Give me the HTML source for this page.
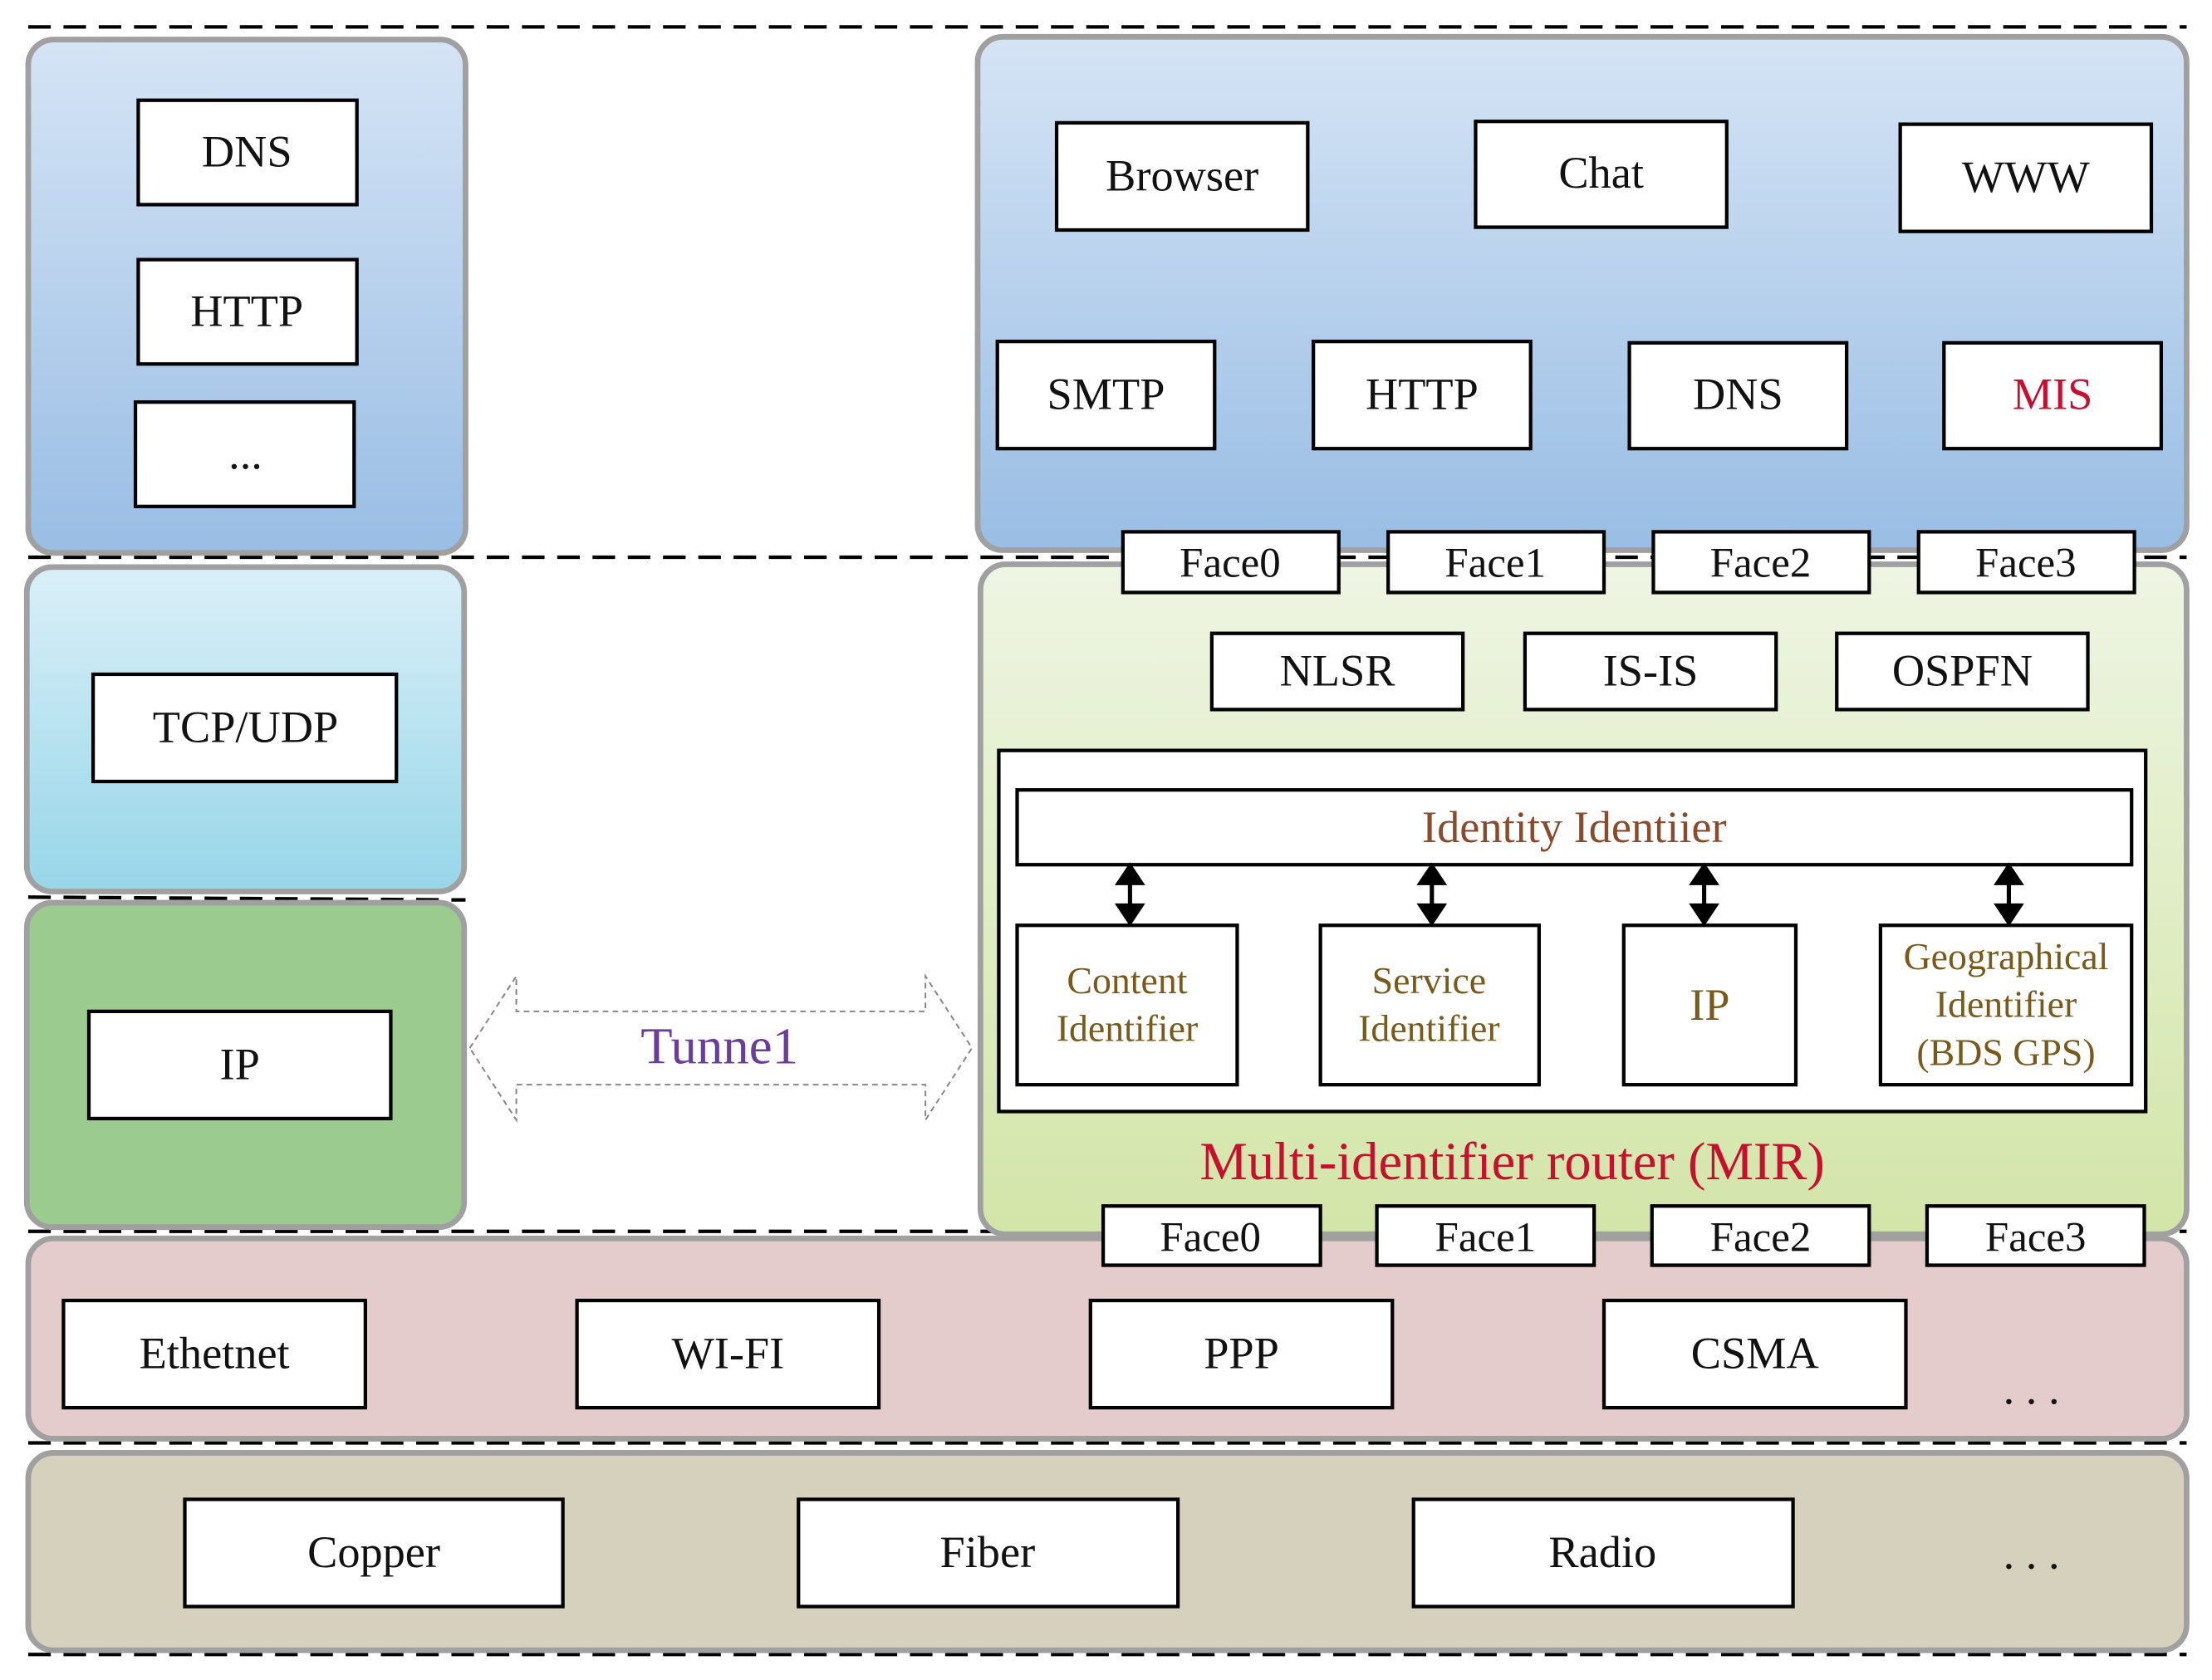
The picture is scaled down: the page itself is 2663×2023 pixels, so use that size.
<!DOCTYPE html>
<html><head><meta charset="utf-8"><style>html,body{margin:0;padding:0;background:#fff}svg{display:block}</style></head><body>
<svg width="2663" height="2023" viewBox="0 0 1568 1191" xmlns="http://www.w3.org/2000/svg" font-family="Liberation Serif, serif">
<defs>
<linearGradient id="g1" x1="0" y1="0" x2="0" y2="1"><stop offset="0" stop-color="#d5e4f5"/><stop offset="1" stop-color="#99bde4"/></linearGradient>
<linearGradient id="g2" x1="0" y1="0" x2="0" y2="1"><stop offset="0" stop-color="#daeff8"/><stop offset="1" stop-color="#97d6e8"/></linearGradient>
<linearGradient id="g3" x1="0" y1="0" x2="0" y2="1"><stop offset="0" stop-color="#eef5e3"/><stop offset="1" stop-color="#d3e5a8"/></linearGradient>
</defs>
<g stroke="#000" stroke-width="2.5" stroke-dasharray="16,9" fill="none">
<line x1="20" y1="19" x2="1550" y2="19"/>
<line x1="20" y1="395" x2="1550" y2="395"/>
<line x1="20" y1="636" x2="330" y2="638"/>
<line x1="20" y1="873" x2="1550" y2="873"/>
<line x1="20" y1="1023" x2="1550" y2="1023"/>
<line x1="20" y1="1173" x2="1550" y2="1173"/>
</g>
<g stroke="#a0a0a0" stroke-width="4">
<rect x="20" y="28" width="310" height="364" rx="18" fill="url(#g1)"/>
<rect x="19" y="402" width="310" height="230" rx="18" fill="url(#g2)"/>
<rect x="19" y="640" width="310" height="230" rx="18" fill="#9ccb8f"/>
<rect x="693" y="26" width="857" height="364" rx="18" fill="url(#g1)"/>
<rect x="695" y="400" width="855" height="475" rx="18" fill="url(#g3)"/>
<rect x="20" y="878" width="1530" height="142" rx="18" fill="#e4cbcc"/>
<rect x="20" y="1030" width="1530" height="140" rx="18" fill="#d6d1bd"/>
</g>
<g stroke="#000" stroke-width="2.5" fill="#fff">
<rect x="98" y="71" width="155" height="74"/>
<rect x="98" y="184" width="155" height="74"/>
<rect x="96" y="285" width="155" height="74"/>
<rect x="66" y="478" width="215" height="76"/>
<rect x="63" y="717" width="214" height="76"/>
<rect x="749" y="87" width="178" height="76"/>
<rect x="1046" y="86" width="178" height="75"/>
<rect x="1347" y="88" width="178" height="76"/>
<rect x="707" y="242" width="154" height="76"/>
<rect x="931" y="242" width="154" height="76"/>
<rect x="1155" y="243" width="154" height="75"/>
<rect x="1378" y="243" width="154" height="75"/>
<rect x="796" y="377" width="153" height="43"/>
<rect x="984" y="377" width="153" height="43"/>
<rect x="1172" y="377" width="153" height="43"/>
<rect x="1360" y="377" width="153" height="43"/>
<rect x="859" y="449" width="178" height="54"/>
<rect x="1081" y="449" width="178" height="54"/>
<rect x="1302" y="449" width="178" height="54"/>
<rect x="708" y="532" width="813" height="256"/>
<rect x="721" y="560" width="790" height="53"/>
<rect x="721" y="656" width="156" height="113"/>
<rect x="936" y="656" width="155" height="113"/>
<rect x="1151" y="656" width="122" height="113"/>
<rect x="1333" y="656" width="178" height="113"/>
<rect x="782" y="855" width="154" height="42"/>
<rect x="976" y="855" width="154" height="42"/>
<rect x="1171" y="855" width="154" height="42"/>
<rect x="1366" y="855" width="154" height="42"/>
<rect x="45" y="922" width="214" height="76"/>
<rect x="409" y="922" width="214" height="76"/>
<rect x="773" y="922" width="214" height="76"/>
<rect x="1137" y="922" width="214" height="76"/>
<rect x="131" y="1063" width="268" height="76"/>
<rect x="566" y="1063" width="269" height="76"/>
<rect x="1002" y="1063" width="269" height="76"/>
</g>
<g stroke="#000" stroke-width="3" fill="#000">
<line x1="801" y1="622" x2="801" y2="646"/><path d="M793 626 L801 614 L809 626Z M793 642 L801 654 L809 642Z"/>
<line x1="1015" y1="622" x2="1015" y2="646"/><path d="M1007 626 L1015 614 L1023 626Z M1007 642 L1015 654 L1023 642Z"/>
<line x1="1208" y1="622" x2="1208" y2="646"/><path d="M1200 626 L1208 614 L1216 626Z M1200 642 L1208 654 L1216 642Z"/>
<line x1="1424" y1="622" x2="1424" y2="646"/><path d="M1416 626 L1424 614 L1432 626Z M1416 642 L1424 654 L1432 642Z"/>
</g>
<path d="M333 743 L366 692 L366 717 L656 717 L656 692 L689 743 L656 794 L656 769 L366 769 L366 794 Z" fill="#fff" stroke="#888" stroke-width="1.2" stroke-dasharray="4,3"/>
<g font-size="32" fill="#111" text-anchor="middle">
<text x="175" y="118">DNS</text>
<text x="175" y="231">HTTP</text>
<text x="174" y="332">...</text>
<text x="174" y="526">TCP/UDP</text>
<text x="170" y="765">IP</text>
<text x="838" y="135">Browser</text>
<text x="1135" y="133">Chat</text>
<text x="1436" y="136">WWW</text>
<text x="784" y="290">SMTP</text>
<text x="1008" y="290">HTTP</text>
<text x="1232" y="290">DNS</text>
<text x="1455" y="290" fill="#c8102e">MIS</text>
<g font-size="30"><text x="872" y="409">Face0</text><text x="1060" y="409">Face1</text><text x="1248" y="409">Face2</text><text x="1436" y="409">Face3</text>
<text x="858" y="887">Face0</text><text x="1053" y="887">Face1</text><text x="1248" y="887">Face2</text><text x="1443" y="887">Face3</text></g>
<text x="948" y="486">NLSR</text>
<text x="1170" y="486">IS-IS</text>
<text x="1391" y="486">OSPFN</text>
<text x="1116" y="597" fill="#8b4a2b">Identity Identiier</text>
<g font-size="27" fill="#7a5a1a"><text x="799" y="704">Content</text><text x="799" y="738">Identifier</text>
<text x="1013" y="704">Service</text><text x="1013" y="738">Identifier</text>
<text x="1422" y="687">Geographical</text><text x="1422" y="721">Identifier</text><text x="1422" y="755">(BDS  GPS)</text></g>
<text x="1212" y="723" fill="#7a5a1a">IP</text>
<text x="1072" y="836" font-size="38" fill="#c8102e">Multi-identifier router (MIR)</text>
<text x="510" y="754" font-size="37" fill="#6a3d9a">Tunne1</text>
<text x="152" y="970">Ethetnet</text>
<text x="516" y="970">WI-FI</text>
<text x="880" y="970">PPP</text>
<text x="1244" y="970">CSMA</text>
<text x="1440" y="995">. . .</text>
<text x="265" y="1111">Copper</text>
<text x="700" y="1111">Fiber</text>
<text x="1136" y="1111">Radio</text>
<text x="1440" y="1112">. . .</text>
</g>
</svg>
</body></html>
